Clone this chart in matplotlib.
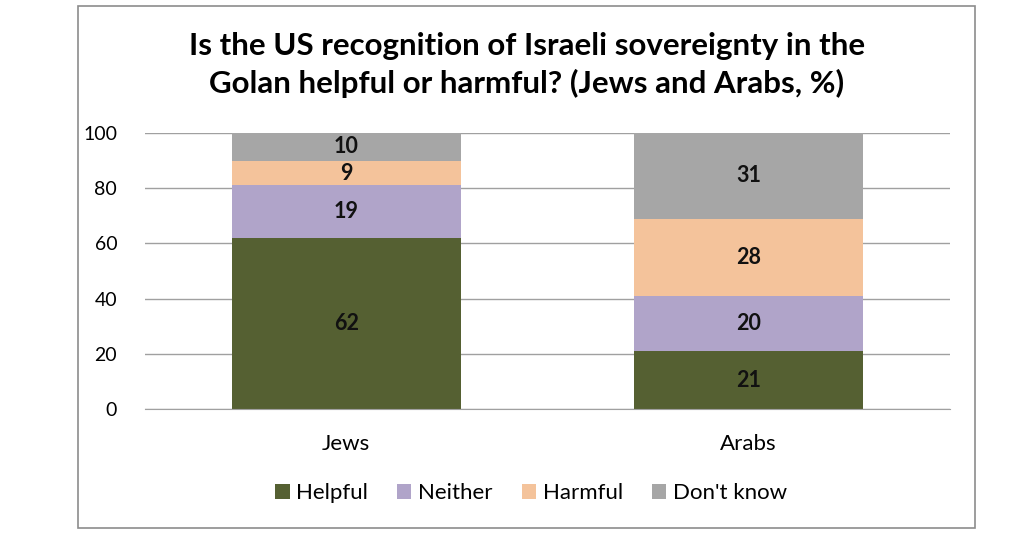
import matplotlib
matplotlib.use("Agg")
import matplotlib.pyplot as plt
from matplotlib.patches import Rectangle
import numpy as np

plt.rcParams['font.family'] = ['Lato', 'DejaVu Sans']

categories = ["Jews", "Arabs"]
series_names = ["Helpful", "Neither", "Harmful", "Don't know"]
helpful = [62, 21]
neither = [19, 20]
harmful = [9, 28]
dont_know = [10, 31]
yticks = [0, 20, 40, 60, 80, 100]
title = "Is the US recognition of Israeli sovereignty in the\nGolan helpful or harmful? (Jews and Arabs, %)"

colors = ["#556032", "#B0A4C9", "#F4C39B", "#A6A6A6"]
series = [helpful, neither, harmful, dont_know]

W, H = 1024, 545
fig = plt.figure(figsize=(W/100, H/100), dpi=100)
ax = fig.add_axes([145/W, 1-409/H, 805/W, 276/H])

x = np.arange(len(categories))
bottom = np.zeros(len(categories))
for name, vals, c in zip(series_names, series, colors):
    ax.bar(x, vals, width=0.57, bottom=bottom, color=c, label=name, zorder=2)
    for xi, b, v in zip(x, bottom, vals):
        ax.text(xi, b + v/2, str(v), ha='center', va='center', fontsize=15.5,
                fontweight='bold', color='#111111', zorder=3)
    bottom += np.array(vals)

ax.set_xlim(-0.5, 1.5)
ax.set_ylim(0, 100)
ax.set_yticks(yticks)
ax.set_yticklabels([str(t) for t in yticks], fontsize=14)
ax.set_xticks(x)
ax.set_xticklabels(categories, fontsize=16)
ax.tick_params(axis='y', length=0, pad=20)
ax.tick_params(axis='x', length=0, pad=18)
ax.yaxis.grid(True, color='#A0A0A0', linewidth=1, zorder=0)
ax.set_axisbelow(True)
for s in ['left', 'right', 'top']:
    ax.spines[s].set_visible(False)
ax.spines['bottom'].set_color('#A0A0A0')

fig.text(527/W, 1-65/H, title, ha='center', va='center', fontsize=22.5,
         fontweight='bold', linespacing=1.35)

handles, labels = ax.get_legend_handles_labels()
fig.legend(handles, labels, loc='center', bbox_to_anchor=(531/W, 1-493/H),
           ncol=4, frameon=False, fontsize=16, handlelength=0.65, handleheight=0.65,
           handletextpad=0.3, columnspacing=1.3)

fig.patches.append(Rectangle((78/W, 1-528/H), 897/W, 522/H, transform=fig.transFigure,
                             fill=False, edgecolor='#8C8C8C', linewidth=1.2))

fig.savefig("out.png", dpi=100, facecolor='white')
